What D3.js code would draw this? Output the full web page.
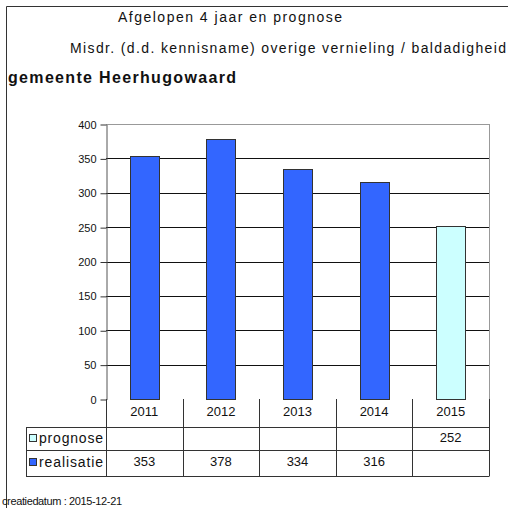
<!DOCTYPE html>
<html>
<head>
<meta charset="utf-8">
<script src="https://cdn.jsdelivr.net/npm/d3@7"></script>
<style>
  body { margin: 0; background: #fff; }
  text { font-family: "Liberation Sans", Arial, sans-serif; fill: #111; }
</style>
</head>
<body>
<div id="chart"></div>
<script>
// Data
const years = ["2011", "2012", "2013", "2014", "2015"];
const realisatie = [353, 378, 334, 316, null];
const prognose = [null, null, null, null, 252];
const yTicks = [0, 50, 100, 150, 200, 250, 300, 350, 400];
const seriesNames = ["prognose", "realisatie"];

const W = 508, H = 508;
const svg = d3.select("#chart").append("svg")
  .attr("width", W).attr("height", H);

// outer frame (only top and left are visible)
svg.append("path")
  .attr("d", "M6.5,508 V6.5 H508")
  .attr("fill", "none").attr("stroke", "#333").attr("stroke-width", 1);

// titles
svg.append("text").attr("x", 118).attr("y", 22)
  .attr("textLength", 224).attr("lengthAdjust", "spacing")
  .style("font-size", "14px").text("Afgelopen 4 jaar en prognose");
svg.append("text").attr("x", 70).attr("y", 53)
  .attr("textLength", 436).attr("lengthAdjust", "spacing")
  .style("font-size", "14px").text("Misdr. (d.d. kennisname) overige vernieling / baldadigheid");
svg.append("text").attr("x", 8).attr("y", 83)
  .attr("textLength", 228).attr("lengthAdjust", "spacing")
  .style("font-size", "16px").style("font-weight", "bold").text("gemeente Heerhugowaard");

// scales
const x = d3.scaleBand().domain(years).range([106, 489]).padding(0);
const y = d3.scaleLinear().domain([0, 400]).range([399, 124]);

// gridlines
svg.append("g")
  .selectAll("line")
  .data(yTicks.filter(d => d > 0))
  .join("line")
  .attr("x1", 106).attr("x2", 489)
  .attr("y1", d => Math.round(y(d)) + 0.5).attr("y2", d => Math.round(y(d)) + 0.5)
  .attr("stroke", d => d === 400 ? "#999" : "#111");

// right border of plot
svg.append("line")
  .attr("x1", 489.5).attr("x2", 489.5).attr("y1", y(400)).attr("y2", y(0))
  .attr("stroke", "#999");

// y axis
const yAxis = svg.append("g")
  .attr("transform", "translate(106.5,0.5)")
  .call(d3.axisLeft(y).tickValues(yTicks).tickSize(6).tickPadding(4).tickSizeOuter(0));
yAxis.select(".domain").attr("stroke", "#555");
yAxis.selectAll(".tick line").attr("stroke", "#333");
yAxis.selectAll("text").style("font-size", "11px")
  .style("font-family", "Liberation Sans, Arial, sans-serif").attr("fill", "#222");

// bars
const barW = 29;
const barX = yr => Math.round(x(yr) + x.bandwidth() / 2 - barW / 2) + 0.5;

svg.append("g")
  .selectAll("rect")
  .data(years.map((yr, i) => ({ yr, v: realisatie[i] })).filter(d => d.v != null))
  .join("rect")
  .attr("x", d => barX(d.yr))
  .attr("width", barW)
  .attr("y", d => Math.round(y(d.v)) + 0.5)
  .attr("height", d => Math.round(y(0)) - Math.round(y(d.v)))
  .attr("fill", "#3366ff").attr("stroke", "#333");

svg.append("g")
  .selectAll("rect")
  .data(years.map((yr, i) => ({ yr, v: prognose[i] })).filter(d => d.v != null))
  .join("rect")
  .attr("x", d => barX(d.yr))
  .attr("width", barW)
  .attr("y", d => Math.round(y(d.v)) + 0.5)
  .attr("height", d => Math.round(y(0)) - Math.round(y(d.v)))
  .attr("fill", "#ccffff").attr("stroke", "#333");

// data table
const rowTop = 399, row1 = 427, row2 = 450, row3 = 476, tableLeft = 26;
const grid = svg.append("g").attr("stroke", "#333").attr("stroke-width", 1).attr("fill", "none");
[row1, row2, row3].forEach(r => {
  grid.append("line").attr("x1", tableLeft).attr("x2", 489.5).attr("y1", r + 0.5).attr("y2", r + 0.5);
});
grid.append("line").attr("x1", tableLeft + 0.5).attr("x2", tableLeft + 0.5).attr("y1", row1).attr("y2", row3);
grid.selectAll(".v")
  .data(years.concat(["end"]))
  .join("line")
  .attr("x1", d => Math.round(d === "end" ? 489 : x(d)) + 0.5)
  .attr("x2", d => Math.round(d === "end" ? 489 : x(d)) + 0.5)
  .attr("y1", rowTop).attr("y2", row3);

// category labels
svg.append("g")
  .selectAll("text")
  .data(years)
  .join("text")
  .attr("x", d => x(d) + x.bandwidth() / 2)
  .attr("y", 416)
  .attr("text-anchor", "middle")
  .style("font-size", "13px")
  .text(d => d);

// legend labels in table
const legendColors = { prognose: "#ccffff", realisatie: "#3366ff" };
const legendY = { prognose: 434, realisatie: 458 };
seriesNames.forEach(s => {
  svg.append("rect").attr("x", 29.5).attr("y", legendY[s] + 0.5)
    .attr("width", 7).attr("height", 7)
    .attr("fill", legendColors[s]).attr("stroke", "#333");
  svg.append("text").attr("x", 39).attr("y", legendY[s] + 9)
    .attr("textLength", 64).attr("lengthAdjust", "spacing")
    .style("font-size", "14px").text(s);
});

// cell values
const cellRows = [[prognose, 442], [realisatie, 466]];
cellRows.forEach(([vals, base]) => {
  svg.append("g")
    .selectAll("text")
    .data(years.map((yr, i) => ({ yr, v: vals[i] })).filter(d => d.v != null))
    .join("text")
    .attr("x", d => x(d.yr) + x.bandwidth() / 2)
    .attr("y", base)
    .attr("text-anchor", "middle")
    .style("font-size", "13px")
    .text(d => d.v);
});

// footer
svg.append("text").attr("x", 2).attr("y", 505)
  .attr("textLength", 120).attr("lengthAdjust", "spacing")
  .style("font-size", "11px").text("creatiedatum : 2015-12-21");
</script>
</body>
</html>
